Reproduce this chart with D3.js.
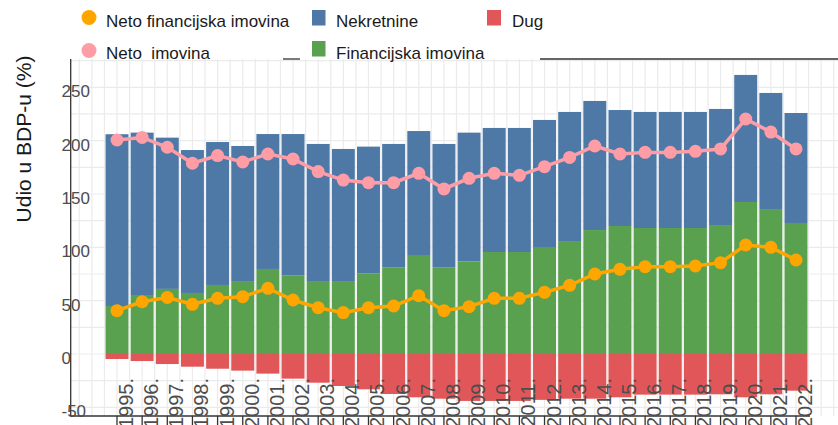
<!DOCTYPE html>
<html>
<head>
<meta charset="utf-8">
<script src="https://cdn.jsdelivr.net/npm/d3@7"></script>
<style>
  body { margin: 0; background: #fff; }
  svg { font-family: "Liberation Sans", Arial, sans-serif; }
</style>
</head>
<body>
<div id="chart"></div>
<script>
// values, % of GDP
var years = [1995, 1996, 1997, 1998, 1999, 2000, 2001, 2002, 2003, 2004, 2005, 2006, 2007, 2008,
             2009, 2010, 2011, 2012, 2013, 2014, 2015, 2016, 2017, 2018, 2019, 2020, 2021, 2022];
var financijska = [45, 55.3, 61, 57.2, 64.7, 68.4, 79.7, 73.4, 68.4, 68.4, 75.3, 80.9, 92.8, 80.9,
                   86.6, 95.6, 95.6, 100.3, 105.9, 116.2, 120, 118.1, 118.1, 118.1, 120.9, 142.5, 135.9, 122.8];
var nekretnine = [161, 152.2, 141.8, 134, 134, 126.6, 126.5, 132.8, 128.5, 123.8, 119.1, 116, 116.2, 116,
                  120.9, 116.3, 116.3, 119.1, 121, 121, 108.7, 108.8, 108.8, 108.8, 108.8, 119.1, 108.8, 103.1];
var dug = [-4.7, -6.6, -9.4, -11.9, -13.8, -15.6, -18.4, -23.1, -26.9, -30, -33.1, -37.5, -40.6, -41.9,
           -44, -44, -44, -43, -41.9, -41.9, -40.6, -38.1, -38.1, -38.1, -37.8, -40.6, -37.8, -34.4];
var netoFin = [40.6, 49, 53, 46.6, 52.2, 53.7, 61.6, 50.6, 43.4, 38.8, 43.4, 45, 54.7, 40.6,
               44.4, 52.2, 52.2, 57.8, 64.4, 75, 79.4, 81.9, 81.9, 82.5, 85.6, 102.2, 100, 88.1];
var netoImovina = [200.6, 203, 193.8, 178.8, 186, 180, 187.5, 182.8, 171, 163, 160.6, 160.6, 169.4, 154.7,
                   164.7, 169.4, 167.5, 175.6, 184.3, 195, 187.5, 189, 189, 190, 192.2, 220.3, 208, 192.2];
var yTicks = [-50, 0, 50, 100, 150, 200, 250];

var W = 838, H = 425;
var plotL = 70.7, plotR = 838, plotT = 59, plotB = 416;

var colFin = "#59a14f", colNek = "#4e79a7", colDug = "#e15759",
    colNetoFin = "#ffa500", colNeto = "#ff9da7";

var svg = d3.select("#chart").append("svg").attr("width", W).attr("height", H);

var x = d3.scaleLinear().domain([1995, 2022]).range([117, 796]);
var y = d3.scaleLinear().domain([0, 250]).range([354, 87.3]);
var step = x(1996) - x(1995);
var barW = step - 2.2;

// grid
var gx = [];
for (var v = 1990; v <= 2026; v += 0.5) {
    if (x(v) > plotL + 2 && x(v) < plotR) gx.push(v);
}
var gy = [];
for (var t = -50; t <= 275; t += 25) gy.push(t);

svg.append("g").selectAll("line").data(gx).enter().append("line")
    .attr("x1", function(d) { return x(d); }).attr("x2", function(d) { return x(d); })
    .attr("y1", plotT).attr("y2", plotB)
    .attr("stroke", "#ebebeb").attr("stroke-width", 1.2);
svg.append("g").selectAll("line").data(gy).enter().append("line")
    .attr("x1", plotL).attr("x2", plotR)
    .attr("y1", function(d) { return y(d); }).attr("y2", function(d) { return y(d); })
    .attr("stroke", "#ebebeb").attr("stroke-width", 1.2);

// stacked bars
var bars = svg.append("g");
years.forEach(function(yr, i) {
    var x0 = x(yr) - barW / 2;
    bars.append("rect").attr("x", x0).attr("width", barW)
        .attr("y", y(financijska[i] + nekretnine[i]))
        .attr("height", y(financijska[i]) - y(financijska[i] + nekretnine[i]))
        .attr("fill", colNek);
    bars.append("rect").attr("x", x0).attr("width", barW)
        .attr("y", y(financijska[i])).attr("height", y(0) - y(financijska[i]))
        .attr("fill", colFin);
    bars.append("rect").attr("x", x0).attr("width", barW)
        .attr("y", y(0)).attr("height", y(dug[i]) - y(0))
        .attr("fill", colDug);
});

// lines with markers
function drawLine(vals, col, r) {
    var line = d3.line()
        .x(function(d, i) { return x(years[i]); })
        .y(function(d) { return y(d); });
    svg.append("path").datum(vals).attr("d", line)
        .attr("fill", "none").attr("stroke", col).attr("stroke-width", 3.5);
    svg.append("g").selectAll("circle").data(vals).enter().append("circle")
        .attr("cx", function(d, i) { return x(years[i]); })
        .attr("cy", function(d) { return y(d); })
        .attr("r", r).attr("fill", col);
}
drawLine(netoImovina, colNeto, 6.5);
drawLine(netoFin, colNetoFin, 6.5);

// axis lines
svg.append("line").attr("x1", plotL).attr("x2", plotL).attr("y1", plotT).attr("y2", plotB)
    .attr("stroke", "#333").attr("stroke-width", 1.3);
svg.append("line").attr("x1", plotL).attr("x2", 810).attr("y1", plotB).attr("y2", plotB)
    .attr("stroke", "#333").attr("stroke-width", 1.3);
svg.append("line").attr("x1", 283).attr("x2", 300).attr("y1", plotT).attr("y2", plotT)
    .attr("stroke", "#333").attr("stroke-width", 1.3);
svg.append("line").attr("x1", 540).attr("x2", 838).attr("y1", plotT).attr("y2", plotT)
    .attr("stroke", "#333").attr("stroke-width", 1.3);

// x ticks
svg.append("g").selectAll("line").data(years).enter().append("line")
    .attr("x1", function(d) { return x(d); }).attr("x2", function(d) { return x(d); })
    .attr("y1", plotB).attr("y2", plotB + 9)
    .attr("stroke", "#333").attr("stroke-width", 1.3);

// y tick labels
svg.append("g").selectAll("text").data(yTicks).enter().append("text")
    .attr("x", 61.5).attr("y", function(d) { return y(d) + 4; })
    .attr("dy", "0.35em")
    .attr("font-size", 17).attr("fill", "#4d4d4d")
    .text(function(d) { return d; });

// x tick labels, rotated
svg.append("g").selectAll("text").data(years).enter().append("text")
    .attr("transform", function(d) { return "translate(" + (x(d) + 16) + ",378) rotate(-90)"; })
    .attr("text-anchor", "end")
    .attr("font-size", 20).attr("fill", "#4d4d4d")
    .text(function(d) { return d + "."; });

// y title
svg.append("text")
    .attr("transform", "translate(31,139) rotate(-90)")
    .attr("text-anchor", "middle")
    .attr("font-size", 21).attr("fill", "#1a1a1a")
    .text("Udio u BDP-u (%)");

// legend
var leg = svg.append("g").attr("font-size", 17).attr("fill", "#1a1a1a");
leg.append("circle").attr("cx", 89).attr("cy", 17.5).attr("r", 7.5).attr("fill", colNetoFin);
leg.append("text").attr("x", 106).attr("y", 26.5).text("Neto financijska imovina");
leg.append("circle").attr("cx", 89).attr("cy", 50.5).attr("r", 7.5).attr("fill", colNeto);
leg.append("text").attr("x", 106).attr("y", 58.5).style("white-space", "pre").text("Neto  imovina");
leg.append("rect").attr("x", 312).attr("y", 10).attr("width", 13.5).attr("height", 15.5).attr("fill", colNek);
leg.append("text").attr("x", 336).attr("y", 26.5).text("Nekretnine");
leg.append("rect").attr("x", 312).attr("y", 41).attr("width", 13.5).attr("height", 15.5).attr("fill", colFin);
leg.append("text").attr("x", 336).attr("y", 58.5).text("Financijska imovina");
leg.append("rect").attr("x", 487).attr("y", 10).attr("width", 14).attr("height", 15.5).attr("fill", colDug);
leg.append("text").attr("x", 512).attr("y", 26.5).text("Dug");
</script>
</body>
</html>
